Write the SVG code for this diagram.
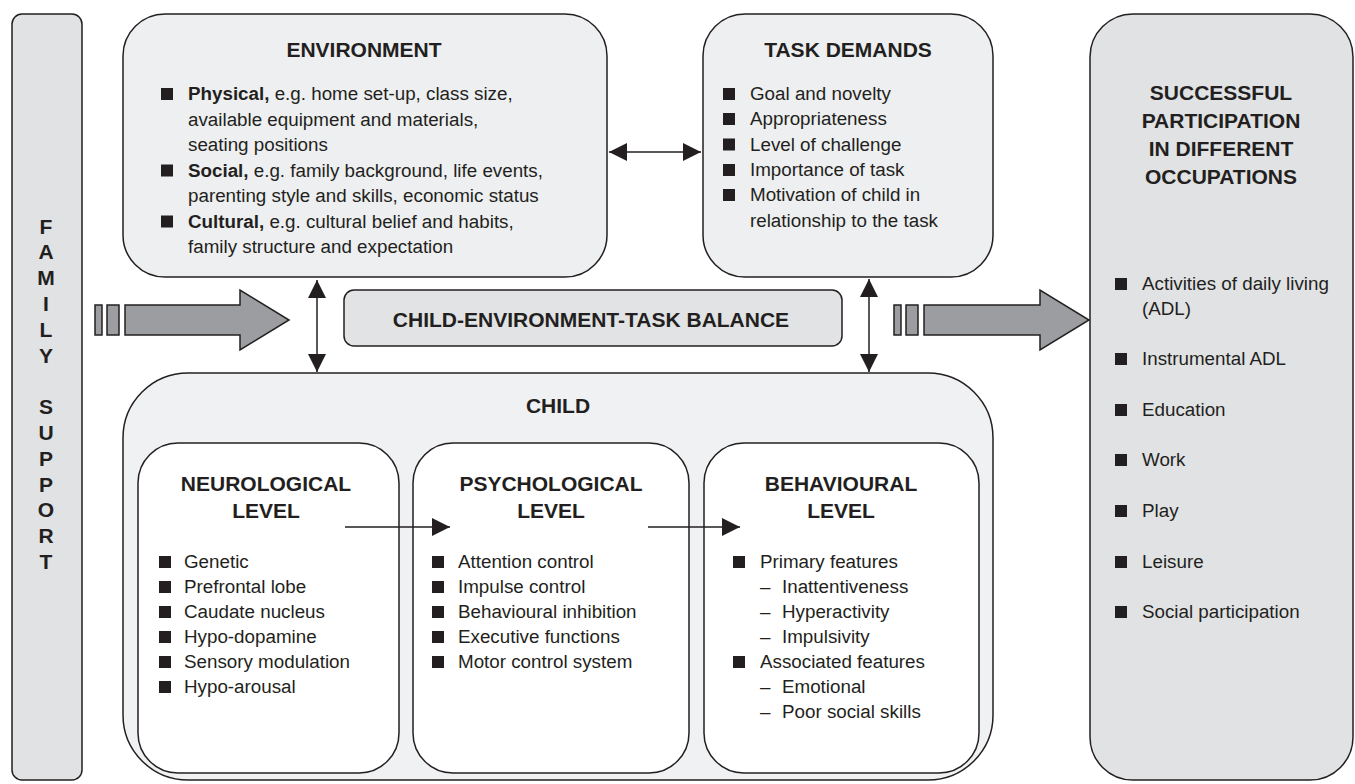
<svg xmlns="http://www.w3.org/2000/svg" width="1355" height="784" viewBox="0 0 1355 784">
<defs>
<style>
.box{stroke:#231f20;stroke-width:1.5}
.t{font-family:"Liberation Sans",Arial,sans-serif;font-size:18.8px;fill:#231f20}
.h{font-family:"Liberation Sans",Arial,sans-serif;font-size:21px;font-weight:bold;fill:#231f20;text-anchor:middle}
.bold{font-weight:bold}
.bul{fill:#231f20}
.ln{stroke:#231f20;stroke-width:1.5;fill:none}
.big{fill:#9c9da0;stroke:#231f20;stroke-width:1.5}
</style>
<marker id="ah" markerUnits="userSpaceOnUse" markerWidth="18" markerHeight="18" refX="18" refY="9" orient="auto-start-reverse" viewBox="0 0 18 18">
<path d="M0,0 L18,9 L0,18 z" fill="#231f20"/>
</marker>
</defs>
<rect width="1355" height="784" fill="#ffffff"/>

<g id="family-support">
<rect class="box" x="12" y="14" width="70" height="766" rx="10" fill="#e1e2e4"/>
<g class="h">
<text x="46" y="233.5">F</text>
<text x="46" y="259.3">A</text>
<text x="46" y="285.1">M</text>
<text x="46" y="310.9">I</text>
<text x="46" y="336.7">L</text>
<text x="46" y="362.5">Y</text>
<text x="46" y="414.1">S</text>
<text x="46" y="439.9">U</text>
<text x="46" y="465.7">P</text>
<text x="46" y="491.5">P</text>
<text x="46" y="517.3">O</text>
<text x="46" y="543.1">R</text>
<text x="46" y="568.9">T</text>
</g>
</g>

<g id="environment">
<rect class="box" x="123" y="14" width="484" height="263" rx="42" fill="#eeeff0"/>
<text class="h" x="364" y="57">ENVIRONMENT</text>
<rect class="bul" x="161" y="88" width="12" height="12"/>
<rect class="bul" x="161" y="164.5" width="12" height="12"/>
<rect class="bul" x="161" y="215.5" width="12" height="12"/>
<g class="t">
<text x="188" y="100"><tspan class="bold">Physical,</tspan> e.g. home set-up, class size,</text>
<text x="188" y="125.5">available equipment and materials,</text>
<text x="188" y="151">seating positions</text>
<text x="188" y="176.5"><tspan class="bold">Social,</tspan> e.g. family background, life events,</text>
<text x="188" y="202">parenting style and skills, economic status</text>
<text x="188" y="227.5"><tspan class="bold">Cultural,</tspan> e.g. cultural belief and habits,</text>
<text x="188" y="253">family structure and expectation</text>
</g>
</g>

<g id="task-demands">
<rect class="box" x="703" y="14" width="290" height="263" rx="42" fill="#eeeff0"/>
<text class="h" x="848" y="57">TASK DEMANDS</text>
<rect class="bul" x="723" y="88" width="12" height="12"/>
<rect class="bul" x="723" y="113" width="12" height="12"/>
<rect class="bul" x="723" y="138.5" width="12" height="12"/>
<rect class="bul" x="723" y="164" width="12" height="12"/>
<rect class="bul" x="723" y="189" width="12" height="12"/>
<g class="t">
<text x="750" y="100">Goal and novelty</text>
<text x="750" y="125">Appropriateness</text>
<text x="750" y="150.5">Level of challenge</text>
<text x="750" y="176">Importance of task</text>
<text x="750" y="201">Motivation of child in</text>
<text x="750" y="226.5">relationship to the task</text>
</g>
</g>

<g id="balance">
<rect class="box" x="344" y="290" width="498" height="56" rx="10" fill="#e2e3e5"/>
<text class="h" x="591" y="327">CHILD-ENVIRONMENT-TASK BALANCE</text>
</g>

<g id="successful-participation">
<rect class="box" x="1090" y="14" width="263" height="766" rx="43" fill="#e1e2e4"/>
<text class="h" x="1221" y="100">SUCCESSFUL</text>
<text class="h" x="1221" y="128">PARTICIPATION</text>
<text class="h" x="1221" y="156">IN DIFFERENT</text>
<text class="h" x="1221" y="184">OCCUPATIONS</text>
<rect class="bul" x="1115" y="278" width="12" height="12"/>
<rect class="bul" x="1115" y="353" width="12" height="12"/>
<rect class="bul" x="1115" y="404" width="12" height="12"/>
<rect class="bul" x="1115" y="454" width="12" height="12"/>
<rect class="bul" x="1115" y="505" width="12" height="12"/>
<rect class="bul" x="1115" y="556" width="12" height="12"/>
<rect class="bul" x="1115" y="606" width="12" height="12"/>
<g class="t">
<text x="1142" y="290">Activities of daily living</text>
<text x="1142" y="315">(ADL)</text>
<text x="1142" y="365">Instrumental ADL</text>
<text x="1142" y="416">Education</text>
<text x="1142" y="466">Work</text>
<text x="1142" y="517">Play</text>
<text x="1142" y="568">Leisure</text>
<text x="1142" y="618">Social participation</text>
</g>
</g>

<g id="child">
<rect class="box" x="123" y="373" width="870" height="407" rx="65" fill="#f0f1f2"/>
<text class="h" x="558" y="413">CHILD</text>
</g>

<g id="neurological-level">
<rect class="box" x="138" y="443" width="261" height="330" rx="40" fill="#ffffff"/>
<text class="h" x="266" y="491">NEUROLOGICAL</text>
<text class="h" x="266" y="518">LEVEL</text>
<rect class="bul" x="159" y="556" width="12" height="12"/>
<rect class="bul" x="159" y="581" width="12" height="12"/>
<rect class="bul" x="159" y="606" width="12" height="12"/>
<rect class="bul" x="159" y="631" width="12" height="12"/>
<rect class="bul" x="159" y="656" width="12" height="12"/>
<rect class="bul" x="159" y="681" width="12" height="12"/>
<g class="t">
<text x="184" y="568">Genetic</text>
<text x="184" y="593">Prefrontal lobe</text>
<text x="184" y="618">Caudate nucleus</text>
<text x="184" y="643">Hypo-dopamine</text>
<text x="184" y="668">Sensory modulation</text>
<text x="184" y="693">Hypo-arousal</text>
</g>
</g>

<g id="psychological-level">
<rect class="box" x="413" y="443" width="276" height="330" rx="40" fill="#ffffff"/>
<text class="h" x="551" y="491">PSYCHOLOGICAL</text>
<text class="h" x="551" y="518">LEVEL</text>
<rect class="bul" x="432" y="556" width="12" height="12"/>
<rect class="bul" x="432" y="581" width="12" height="12"/>
<rect class="bul" x="432" y="606" width="12" height="12"/>
<rect class="bul" x="432" y="631" width="12" height="12"/>
<rect class="bul" x="432" y="656" width="12" height="12"/>
<g class="t">
<text x="458" y="568">Attention control</text>
<text x="458" y="593">Impulse control</text>
<text x="458" y="618">Behavioural inhibition</text>
<text x="458" y="643">Executive functions</text>
<text x="458" y="668">Motor control system</text>
</g>
</g>

<g id="behavioural-level">
<rect class="box" x="704" y="443" width="275" height="330" rx="40" fill="#ffffff"/>
<text class="h" x="841" y="491">BEHAVIOURAL</text>
<text class="h" x="841" y="518">LEVEL</text>
<rect class="bul" x="733" y="556" width="12" height="12"/>
<rect class="bul" x="733" y="656" width="12" height="12"/>
<g class="t">
<text x="760" y="568">Primary features</text>
<text y="593"><tspan x="760">–</tspan><tspan x="782">Inattentiveness</tspan></text>
<text y="618"><tspan x="760">–</tspan><tspan x="782">Hyperactivity</tspan></text>
<text y="643"><tspan x="760">–</tspan><tspan x="782">Impulsivity</tspan></text>
<text x="760" y="668">Associated features</text>
<text y="693"><tspan x="760">–</tspan><tspan x="782">Emotional</tspan></text>
<text y="718"><tspan x="760">–</tspan><tspan x="782">Poor social skills</tspan></text>
</g>
</g>

<g id="connectors">
<line class="ln" x1="609" y1="152" x2="701" y2="152" marker-start="url(#ah)" marker-end="url(#ah)"/>
<line class="ln" x1="317" y1="280" x2="317" y2="372" marker-start="url(#ah)" marker-end="url(#ah)"/>
<line class="ln" x1="869" y1="279" x2="869" y2="372" marker-start="url(#ah)" marker-end="url(#ah)"/>
<line class="ln" x1="345" y1="527" x2="450" y2="527" marker-end="url(#ah)"/>
<line class="ln" x1="648" y1="527" x2="740" y2="527" marker-end="url(#ah)"/>
<rect class="big" x="95" y="305" width="7" height="30"/>
<rect class="big" x="107" y="305" width="12" height="30"/>
<polygon class="big" points="125,305 240,305 240,290 289,320 240,350 240,335 125,335"/>
<rect class="big" x="894" y="305" width="7" height="30"/>
<rect class="big" x="906" y="305" width="12" height="30"/>
<polygon class="big" points="924,305 1040,305 1040,290 1089,320 1040,350 1040,335 924,335"/>
</g>
</svg>
